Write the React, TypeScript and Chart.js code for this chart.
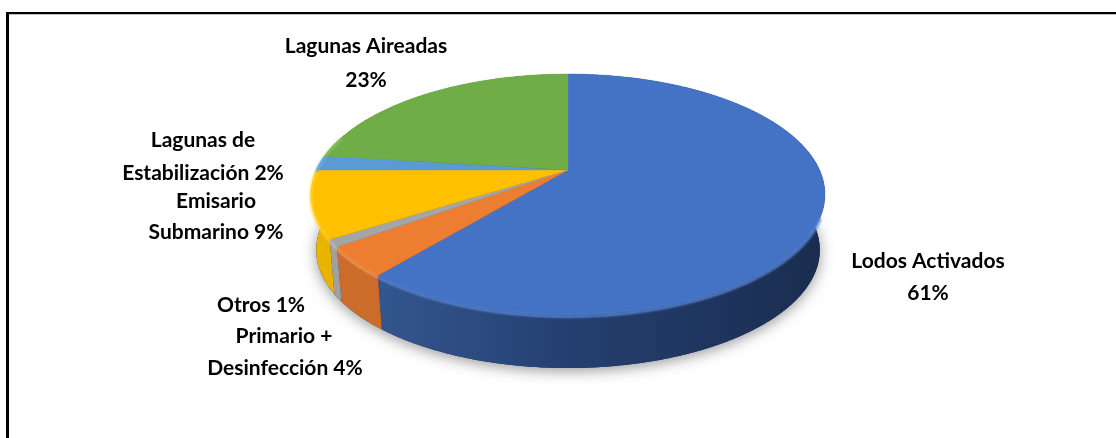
import React, { useEffect, useRef } from "react";
import { Chart, registerables } from "chart.js";

Chart.register(...registerables);

// Treatment types, in clockwise order from twelve o'clock
const categories = [
  "Lodos Activados",
  "Primario + Desinfección",
  "Otros",
  "Emisario Submarino",
  "Lagunas de Estabilización",
  "Lagunas Aireadas",
];
const shares = [61, 4, 1, 9, 2, 23];
const topColors = ["#4472c4", "#ed7d31", "#a5a5a5", "#ffc000", "#5b9bd5", "#70ad47"];
const rimColors = ["#5b8ad8", "#f79a55", "#bdbdbd", "#ffd42e", "#72aee0", "#86c25c"];
const wallStops = [
  ["#33568f", "#243f6f", "#1a2d50"],
  ["#cc6c2a", "#c06628", "#b46024"],
  ["#a0a0a0", "#939393", "#8a8a8a"],
  ["#e8b400", "#dca800", "#d8a600"],
  ["#41709a", "#41709a", "#41709a"],
  ["#507c32", "#507c32", "#507c32"],
];

// Wrapped label lines per slice and the pen position of each line
const labelLines = [
  ["Lodos Activados", "61%"],
  ["Primario +", "Desinfección 4%"],
  ["Otros 1%"],
  ["Emisario", "Submarino 9%"],
  ["Lagunas de", "Estabilización 2%"],
  ["Lagunas Aireadas", "23%"],
];
const labelAnchors = [
  [[928, 268], [928, 300]],
  [[284, 343], [285, 375]],
  [[261, 312]],
  [[216, 208], [216, 239]],
  [[203, 147], [203, 180]],
  [[366, 53], [366, 87]],
];

// Perspective of the tilted disc: hub position, radii and foreshortening
const HUB_X = 568;
const HUB_Y = 170;
const RADIUS_X = 251.6;
const RADIUS_Y = 115.5;
const TILT = 0.203;
const WALL_DROP = 56;
const WALL_SCALE = 0.98;

const project = (theta: number, drop = 0, scale = 1) => {
  const u = Math.sin(theta);
  const v = Math.cos(theta);
  const w = 1 + TILT * v;
  return {
    x: HUB_X + (scale * RADIUS_X * u) / w,
    y: HUB_Y + drop - (scale * RADIUS_Y * v) / w,
  };
};

const sampleAngles = (a: number, b: number) => {
  const n = Math.max(2, Math.ceil(Math.abs(b - a) / 0.01));
  return Array.from({ length: n + 1 }, (_, i) => a + ((b - a) * i) / n);
};

const discOutline = (ctx: CanvasRenderingContext2D, drop: number, scale: number) => {
  ctx.beginPath();
  sampleAngles(0, Math.PI * 2).forEach((t) => {
    const p = project(t, drop, scale);
    ctx.lineTo(p.x, p.y);
  });
  ctx.closePath();
};

const tiltedPie = {
  id: "tiltedPie",
  beforeDatasetDraw(chart: any) {
    const { ctx } = chart;
    const arcs = chart.getDatasetMeta(0).data;
    const spans = arcs.map((arc: any) => [arc.startAngle + Math.PI / 2, arc.endAngle + Math.PI / 2]);

    // Soft ground shadow below the lower rim
    ctx.save();
    ctx.shadowColor = "rgba(70,70,70,0.55)";
    ctx.shadowBlur = 14;
    ctx.shadowOffsetY = 3;
    ctx.fillStyle = "#1a2d50";
    discOutline(ctx, WALL_DROP, WALL_SCALE);
    ctx.fill();
    ctx.restore();

    // Side wall of each slice, shaded from left to right
    spans.forEach(([a, b]: number[], i: number) => {
      const grad = ctx.createLinearGradient(HUB_X - 190, 0, HUB_X + 250, 0);
      grad.addColorStop(0, wallStops[i][0]);
      grad.addColorStop(0.45, wallStops[i][1]);
      grad.addColorStop(1, wallStops[i][2]);
      ctx.fillStyle = grad;
      ctx.beginPath();
      sampleAngles(a, b).forEach((t) => {
        const p = project(t);
        ctx.lineTo(p.x, p.y);
      });
      sampleAngles(b, a).forEach((t) => {
        const p = project(t, WALL_DROP, WALL_SCALE);
        ctx.lineTo(p.x, p.y);
      });
      ctx.closePath();
      ctx.fill();
    });

    // Top face of each slice
    spans.forEach(([a, b]: number[], i: number) => {
      ctx.fillStyle = topColors[i];
      ctx.strokeStyle = topColors[i];
      ctx.lineWidth = 0.4;
      ctx.beginPath();
      ctx.moveTo(HUB_X, HUB_Y);
      sampleAngles(a, b).forEach((t) => {
        const p = project(t);
        ctx.lineTo(p.x, p.y);
      });
      ctx.closePath();
      ctx.fill();
      ctx.stroke();
    });

    // Bevel glow along the near edge, fading towards the right side
    spans.forEach(([a, b]: number[], i: number) => {
      const front = sampleAngles(a, b).filter((t) => {
        const norm = t % (Math.PI * 2);
        return norm > Math.PI * 0.62 && norm < Math.PI * 1.6;
      });
      if (front.length < 2) return;
      ctx.save();
      ctx.filter = "blur(1.2px)";
      ctx.strokeStyle = rimColors[i];
      ctx.lineWidth = 2.5;
      ctx.beginPath();
      front.forEach((t) => {
        const p = project(t, 1.5);
        ctx.lineTo(p.x, p.y);
      });
      ctx.stroke();
      ctx.restore();
    });
    return false;
  },
  afterDraw(chart: any) {
    const { ctx, width } = chart;

    // Black frame on the top and left sides only
    ctx.fillStyle = "#c4c4c4";
    ctx.fillRect(8, 14, width - 8, 1);
    ctx.fillStyle = "#000000";
    ctx.fillRect(6, 12, width - 6, 2);
    ctx.fillRect(6, 12, 3, 426);

    ctx.font = 'bold 21px Lato, "Noto Sans", sans-serif';
    ctx.fillStyle = "#000000";
    ctx.textAlign = "center";
    ctx.textBaseline = "alphabetic";
    labelLines.forEach((lines, i) => {
      lines.forEach((line, j) => {
        const [x, y] = labelAnchors[i][j];
        ctx.fillText(line, x, y);
      });
    });
  },
};

export default function App() {
  const ref = useRef<HTMLCanvasElement>(null);
  useEffect(() => {
    document.body.style.margin = "0";
    const chart = new Chart(ref.current as HTMLCanvasElement, {
      type: "pie",
      data: {
        labels: categories,
        datasets: [{ data: shares, backgroundColor: topColors, borderWidth: 0 }],
      },
      options: {
        animation: false,
        responsive: false,
        plugins: { legend: { display: false }, tooltip: { enabled: false } },
      },
      plugins: [tiltedPie],
    });
    return () => chart.destroy();
  }, []);
  return <canvas ref={ref} width={1116} height={438} style={{ display: "block" }} />;
}
